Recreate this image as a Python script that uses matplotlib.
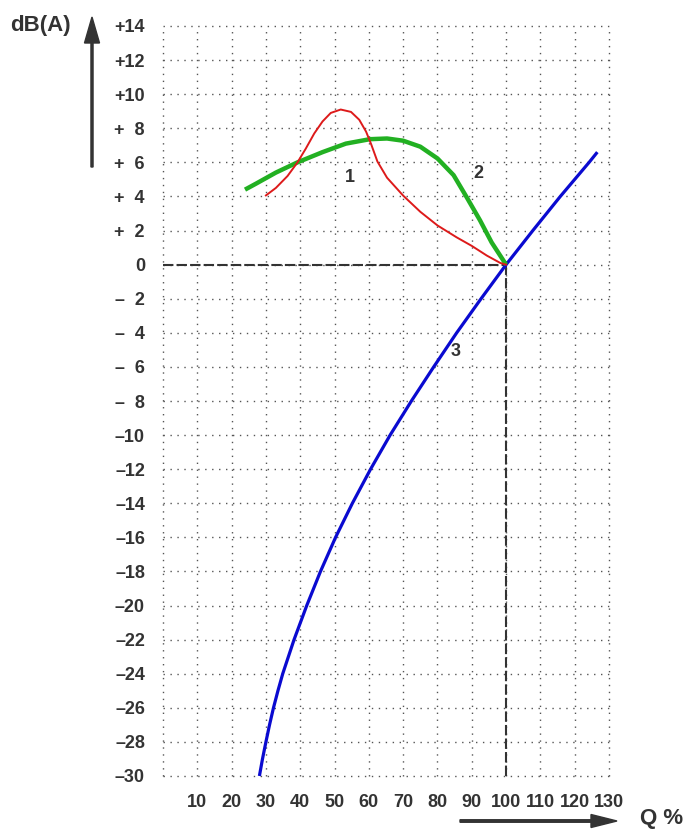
import matplotlib.pyplot as plt
from matplotlib.patches import FancyArrow

# curve 1 (red)
x1 = [30, 32.9, 36.3, 39.2, 41.6, 44.1, 46.5, 48.9, 51.8, 54.8, 57.2, 59.2, 60.7, 62.5, 65.3,
      70, 75, 80, 85.6, 90, 94.4, 98.3, 100]
y1 = [4.06, 4.5, 5.2, 6.0, 6.8, 7.7, 8.4, 8.9, 9.1, 8.96, 8.5, 7.8, 7.05, 6.05, 5.1,
      4.05, 3.1, 2.3, 1.6, 1.1, 0.53, 0.1, 0]

# curve 2 (green)
x2 = [23.9, 27.1, 32.9, 39.2, 46.5, 53.3, 60.3, 65.3, 70, 75, 80, 84.7, 88.5, 92.4, 95.8, 100]
y2 = [4.4, 4.75, 5.4, 6.0, 6.6, 7.1, 7.36, 7.4, 7.27, 6.92, 6.23, 5.25, 3.96, 2.6, 1.3, 0]

# curve 3 (blue)
x3 = [28.1, 29.0, 30.0, 31.05, 32.2, 33.5, 34.9, 38.2, 41.9, 45.9, 50.3, 55.2, 60.5,
      66.2, 72.4, 78.9, 85.6, 92.7, 100, 107.8, 115.8, 124.2, 126.6]
y3 = [-30, -29, -28, -27, -26, -25, -24, -22, -20, -18, -16, -14, -12,
      -10, -8, -6, -4, -2, 0, 2, 4, 6, 6.6]

xticks = list(range(0, 131, 10))
xlabels = [''] + [str(v) for v in xticks[1:]]
yticks = list(range(-30, 15, 2))
ylabels = []
for v in yticks:
    if v > 0:
        ylabels.append('+%s' % v if v >= 10 else '+  %s' % v)
    elif v < 0:
        ylabels.append('\u2013%s' % -v if v <= -10 else '\u2013  %s' % -v)
    else:
        ylabels.append('0')

plt.rcParams['font.family'] = ['Liberation Sans', 'DejaVu Sans']

fig = plt.figure(figsize=(6.89, 8.30), dpi=100)
ax = fig.add_axes([163 / 689, 54 / 830, 446 / 689, 750 / 830])
ax.set_xlim(0, 130)
ax.set_ylim(-30, 14)

ax.set_xticks(xticks)
ax.set_xticklabels(xlabels, fontsize=13, fontweight='bold', color='#333333')
ax.set_yticks(yticks)
ax.set_yticklabels(ylabels, fontsize=13, fontweight='bold', color='#333333')
ax.tick_params(length=0, pad=13)
for s in ax.spines.values():
    s.set_visible(False)
ax.grid(True, color='#555555', linestyle=(0, (1, 4)), linewidth=1.0)
for gl in ax.get_xgridlines() + ax.get_ygridlines():
    gl.set_clip_on(False)

ax.plot([0, 100], [0, 0], color='#333333', linestyle=(0, (5, 1.5)), linewidth=1.5)
ax.plot([100, 100], [-30, 0], color='#333333', linestyle=(0, (5, 1.5)), linewidth=1.5)

ax.plot(x3, y3, color='#0a0ad0', linewidth=2.3, solid_capstyle='butt', solid_joinstyle='round', clip_on=False)
ax.plot(x2, y2, color='#22b022', linewidth=3.2, solid_capstyle='butt', solid_joinstyle='round')
ax.plot(x1, y1, color='#dd1a1a', linewidth=1.4, solid_joinstyle='round')

ax.text(54.6, 5.1, '1', fontsize=13, fontweight='bold', color='#333333', ha='center', va='center')
ax.text(92.0, 5.35, '2', fontsize=13, fontweight='bold', color='#333333', ha='center', va='center')
ax.text(85.4, -5.1, '3', fontsize=13, fontweight='bold', color='#333333', ha='center', va='center')

fig.text(10 / 689, 1 - 25 / 830, 'dB(A)', fontsize=16, fontweight='bold', color='#333333', ha='left', va='center')
fig.text(640 / 689, 1 - 818 / 830, 'Q %', fontsize=16, fontweight='bold', color='#333333', ha='left', va='center')

fig.patches.append(FancyArrow(92 / 689, 1 - 167 / 830, 0, 150 / 830, width=2.5 / 830,
                              head_width=15 / 689, head_length=26 / 830, length_includes_head=True,
                              color='#333333', transform=fig.transFigure))
fig.patches.append(FancyArrow(460 / 689, 1 - 821 / 830, 157 / 689, 0, width=2.5 / 830,
                              head_width=13 / 830, head_length=26 / 689, length_includes_head=True,
                              color='#333333', transform=fig.transFigure))

fig.savefig('out.png', dpi=100, facecolor='white')
